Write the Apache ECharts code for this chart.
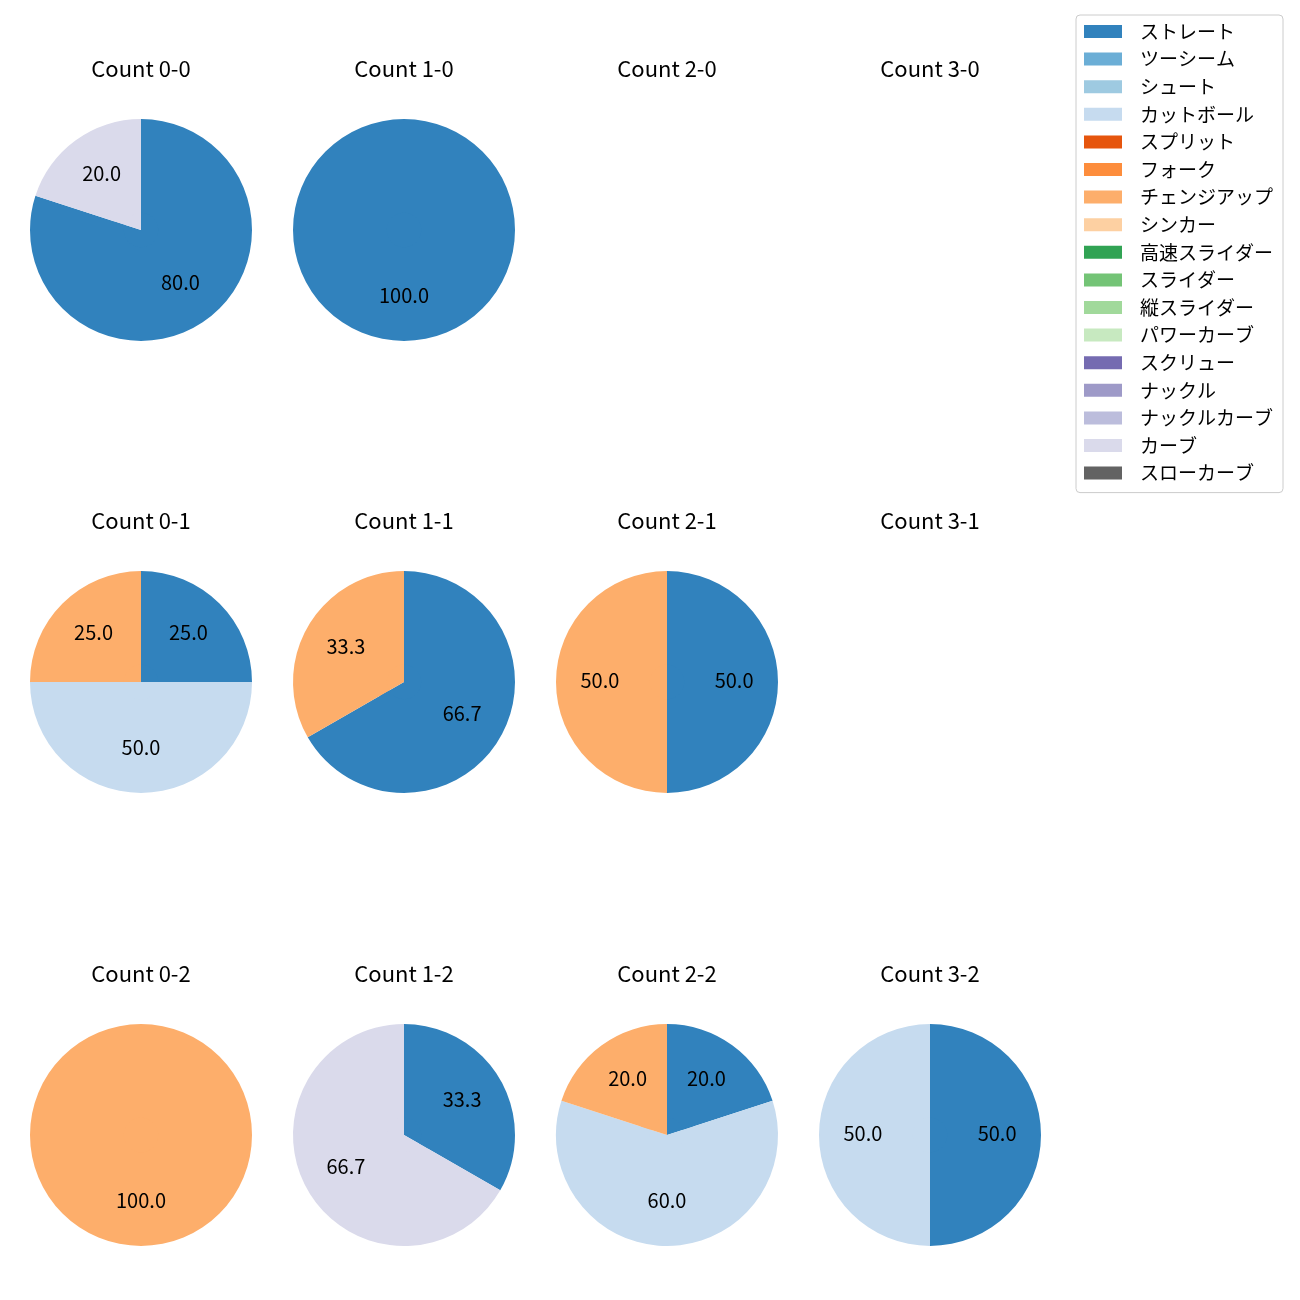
<!DOCTYPE html>
<html>
<head>
<meta charset="utf-8">
<script src="https://cdn.jsdelivr.net/npm/echarts@6/dist/echarts.min.js"></script>
<style>html,body{margin:0;padding:0;background:#fff}#c{width:1300px;height:1300px}</style>
</head>
<body>
<div id="c"></div>
<script>
// ---- data ----
const pitchNames = ['ストレート','ツーシーム','シュート','カットボール','スプリット','フォーク','チェンジアップ','シンカー','高速スライダー','スライダー','縦スライダー','パワーカーブ','スクリュー','ナックル','ナックルカーブ','カーブ','スローカーブ'];
const pitchColors = ['#3182bd','#6baed6','#9ecae1','#c6dbef','#e6550d','#fd8d3c','#fdae6b','#fdd0a2','#31a354','#74c476','#a1d99b','#c7e9c0','#756bb1','#9e9ac8','#bcbddc','#dadaeb','#636363'];
const countLabels = ['0-0','1-0','2-0','3-0','0-1','1-1','2-1','3-1','0-2','1-2','2-2','3-2'];
const count00 = [['ストレート', 80.0], ['カーブ', 20.0]];
const count10 = [['ストレート', 100.0]];
const count20 = [];
const count30 = [];
const count01 = [['ストレート', 25.0], ['カットボール', 50.0], ['チェンジアップ', 25.0]];
const count11 = [['ストレート', 66.7], ['チェンジアップ', 33.3]];
const count21 = [['ストレート', 50.0], ['チェンジアップ', 50.0]];
const count31 = [];
const count02 = [['チェンジアップ', 100.0]];
const count12 = [['ストレート', 33.3], ['カーブ', 66.7]];
const count22 = [['ストレート', 20.0], ['カットボール', 60.0], ['チェンジアップ', 20.0]];
const count32 = [['ストレート', 50.0], ['カットボール', 50.0]];
const countData = [count00, count10, count20, count30, count01, count11, count21, count31, count02, count12, count22, count32];

// ---- layout ----
const colX = [141, 404, 667, 930];
const rowY = [230, 682, 1135];
const R = 111;
const titleOffset = 161;
const FONT = '"Noto Sans CJK JP", "Noto Sans", sans-serif';

const colorOf = {};
pitchNames.forEach((n, i) => colorOf[n] = pitchColors[i]);

const series = [];
const graphics = [];
countLabels.forEach((lab, k) => {
  const cx = colX[k % 4], cy = rowY[Math.floor(k / 4)];
  graphics.push({
    type: 'text', x: cx, y: cy - titleOffset, silent: true,
    style: { text: 'Count ' + lab, font: '22px ' + FONT, fill: '#000', align: 'center', verticalAlign: 'middle' }
  });
  const d = countData[k];
  if (!d.length) return;
  const items = d.map(([n, v]) => ({ name: n, value: v, itemStyle: { color: colorOf[n] } }));
  // inner fill disk (under the ring)
  series.push({
    type: 'pie', center: [cx, cy], radius: [0, R * 0.25], startAngle: 90, clockwise: true,
    silent: true, z: 1, animation: false, label: { show: false }, labelLine: { show: false },
    itemStyle: { borderWidth: 0 }, emphasis: { disabled: true },
    data: items.map(it => ({ ...it }))
  });
  // ring carrying the labels
  series.push({
    type: 'pie', center: [cx, cy], radius: [R * 0.155, R], startAngle: 90, clockwise: true,
    silent: true, z: 2, animation: false, avoidLabelOverlap: false,
    itemStyle: { borderWidth: 0 }, emphasis: { disabled: true },
    label: { show: true, position: 'inside', color: '#000', fontFamily: FONT, fontSize: 20,
      offset: [0, -2], formatter: p => p.value.toFixed(1) },
    labelLine: { show: false },
    data: items
  });
});

// legend carrier (invisible)
series.push({
  type: 'pie', name: 'legend', center: [-500, -500], radius: [0, 0.1], silent: true, animation: false,
  label: { show: false }, labelLine: { show: false },
  data: pitchNames.map((n, i) => ({ name: n, value: 1, itemStyle: { color: pitchColors[i] } }))
});

const chart = echarts.init(document.getElementById('c'), null, { renderer: 'canvas' });
chart.setOption({
  backgroundColor: '#fff',
  animation: false,
  legend: {
    orient: 'vertical', left: 1076, top: 15,
    data: pitchNames, icon: 'rect', itemWidth: 38, itemHeight: 13, itemGap: 8.6,
    selectedMode: false,
    backgroundColor: '#fff', borderColor: '#cccccc', borderWidth: 1, borderRadius: 4,
    padding: [7, 10, 10, 8],
    itemStyle: { borderWidth: 0 },
    textStyle: { fontFamily: FONT, fontSize: 19, color: '#000', lineHeight: 18, padding: [0, 0, 0, 13] }
  },
  graphic: graphics,
  series: series
});
</script>
</body>
</html>
